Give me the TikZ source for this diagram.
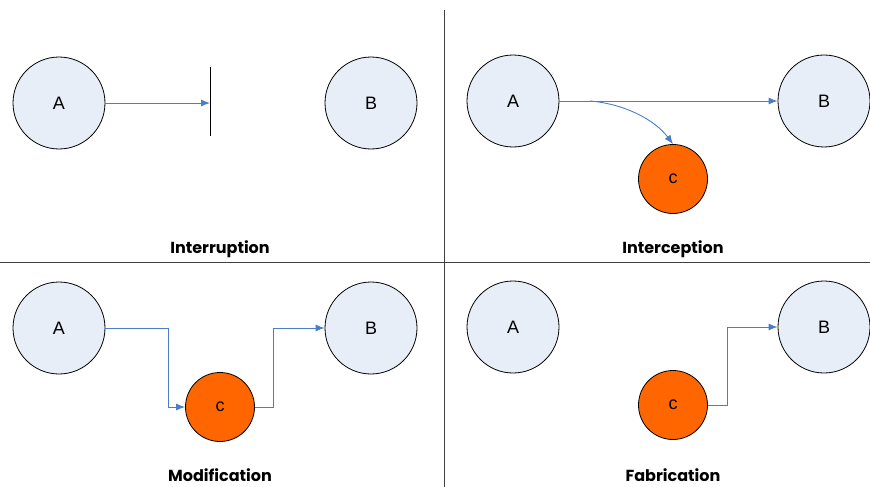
\documentclass[tikz,border=0pt]{standalone}
\usepackage{fontspec}
\setmainfont{Liberation Sans}
\newfontfamily\capfont{Poppins Bold}
\usetikzlibrary{arrows.meta,calc}
\definecolor{nodefill}{HTML}{E8EEF7}
\definecolor{attacker}{HTML}{FF6600}
\definecolor{flow}{HTML}{4A7EC8}
\definecolor{divider}{HTML}{404040}
\tikzset{
  party/.style={circle,draw=black,line width=0.8pt,fill=nodefill,minimum size=92pt,inner sep=0pt,font=\fontsize{18}{18}\selectfont},
  intruder/.style={circle,draw=black,line width=0.8pt,fill=attacker,minimum size=69pt,inner sep=0pt,font=\fontsize{18}{18}\selectfont},
  msg/.style={draw=flow,line width=0.9pt,-{Latex[length=9pt,width=7pt]}},
  caption/.style={font=\capfont\fontsize{16}{16}\selectfont},
  sep/.style={draw=divider,line width=0.9pt}
}
\begin{document}
\begin{tikzpicture}[x=1pt,y=-1pt]
\useasboundingbox (0,0) rectangle (870,487);
% quadrant dividers
\draw[sep] (0,262) -- (870,262);
\draw[sep] (444,10) -- (444,487);

% Interruption
\node[party] (iA) at (59,103) {A};
\node[party] (iB) at (371,103) {B};
\coordinate (barTop) at (210,67);
\coordinate (barBot) at (210,136);
\coordinate (barMid) at (210,103);
\draw[line width=1pt] (barTop) -- (barBot);
\draw[msg] (iA.east) -- (barMid);
\node[caption] (capI) at (220,249.5) {Interruption};

% Interception
\node[party] (pA) at (513,101) {A};
\node[party] (pB) at (824,101) {B};
\node[intruder] (pC) at (673,179) {c};
\draw[msg] (pA.east) -- (pB.west);
\coordinate (tap) at (590,101);
\draw[msg] (tap) .. controls (625,104) and (655,120) .. (pC.north);
\node[caption] (capP) at (673,249.5) {Interception};

% Modification
\node[party] (mA) at (59,328) {A};
\node[party] (mB) at (371,328) {B};
\node[intruder] (mC) at (220,407) {c};
\draw[msg] (mA.east) -- (168,328) |- (mC.west);
\draw[msg] (mC.east) -- (273,407) |- (mB.west);
\node[caption] (capM) at (220,475) {Modification};

% Fabrication
\node[party] (fA) at (513,327) {A};
\node[party] (fB) at (824,327) {B};
\node[intruder] (fC) at (673,405) {c};
\draw[msg] (fC.east) -- (727,405) |- (fB.west);
\node[caption] (capF) at (673,475) {Fabrication};
\end{tikzpicture}
\end{document}
